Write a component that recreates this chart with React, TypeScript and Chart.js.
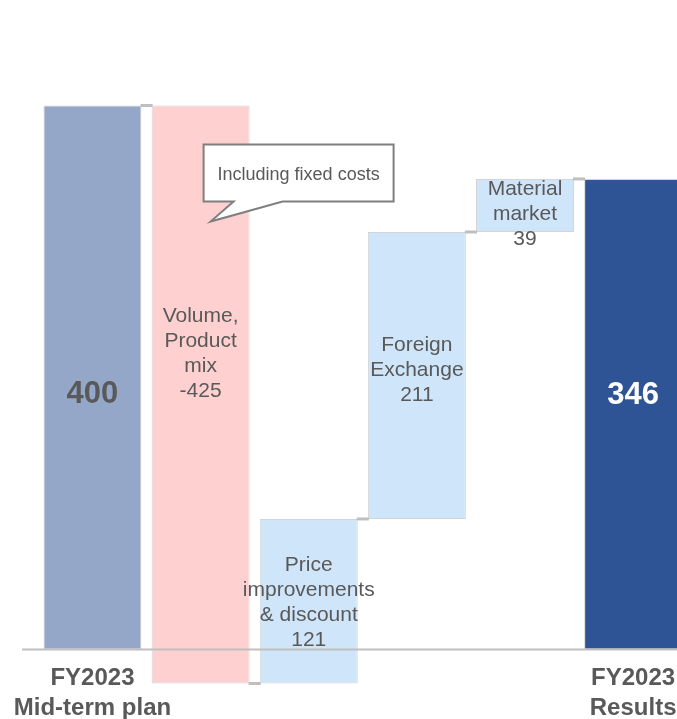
import React, { useEffect, useRef } from "react";
import { Chart, registerables } from "chart.js";

Chart.register(...registerables);

// ---- data ----
const categories = ["FY2023 Mid-term plan", "Volume, Product mix", "Price improvements & discount", "Foreign Exchange", "Material market", "FY2023 Results"];
const values = [400, -425, 121, 211, 39, 346];
const barKinds = ["total", "delta", "delta", "delta", "delta", "total"];
const barNameLines = [[], ["Volume,", "Product", "mix"], ["Price", "improvements", "& discount"], ["Foreign", "Exchange"], ["Material", "market"], []];
const axisLabelLines = [["FY2023", "Mid-term plan"], [], [], [], [], ["FY2023", "Results"]];
const calloutText = "Including fixed costs";
const calloutBarIndex = 1;

// ---- style ----
const FONT = "'Liberation Sans', Arial, sans-serif";
const TEXT = "#595959";
const barColors = ["#94A7C9", "#FFD0D0", "#CFE5FA", "#CFE5FA", "#CFE5FA", "#2F5496"];
const labelDy = [17, -41, 1, -5, 9, -19];
const labelColors = [TEXT, TEXT, TEXT, TEXT, TEXT, "#FFFFFF"];

function buildRanges() {
  let running = 0;
  return values.map((v, i) => {
    if (barKinds[i] === "total") {
      running = v;
      return [0, v];
    }
    const r = [running, running + v];
    running += v;
    return r;
  });
}

const overlayPlugin = {
  id: "overlay",
  afterDatasetsDraw(chart: any) {
    const ctx = chart.ctx;
    const meta = chart.getDatasetMeta(0);
    const y = chart.scales.y;
    const ranges = buildRanges();
    ctx.save();

    // connectors
    ctx.strokeStyle = "#BFBFBF";
    ctx.lineWidth = 3;
    for (let i = 0; i < ranges.length - 1; i++) {
      const a = meta.data[i];
      const b = meta.data[i + 1];
      const level = ranges[i][1];
      const py = y.getPixelForValue(level);
      ctx.beginPath();
      ctx.moveTo(a.x + a.width / 2 - 1, py);
      ctx.lineTo(b.x - b.width / 2 + 1, py);
      ctx.stroke();
    }

    // baseline
    const zy = y.getPixelForValue(0);
    ctx.strokeStyle = "#C0C0C0";
    ctx.lineWidth = 2;
    ctx.beginPath();
    ctx.moveTo(22, zy);
    ctx.lineTo(chart.width, zy);
    ctx.stroke();

    // bar labels
    ctx.textAlign = "center";
    ctx.textBaseline = "middle";
    values.forEach((v, i) => {
      const el = meta.data[i];
      const mid = (y.getPixelForValue(ranges[i][0]) + y.getPixelForValue(ranges[i][1])) / 2 + labelDy[i];
      ctx.fillStyle = labelColors[i];
      if (barKinds[i] === "total") {
        ctx.font = `bold 31px ${FONT}`;
        ctx.fillText(String(v), el.x, mid);
      } else {
        const lines = [...barNameLines[i], String(v)];
        const lh = 25;
        ctx.font = `21px ${FONT}`;
        lines.forEach((t, k) => {
          ctx.fillText(t, el.x, mid + (k - (lines.length - 1) / 2) * lh);
        });
      }
    });

    // axis labels
    ctx.font = `bold 24px ${FONT}`;
    ctx.fillStyle = TEXT;
    axisLabelLines.forEach((lines, i) => {
      const el = meta.data[i];
      lines.forEach((t, k) => {
        ctx.fillText(t, el.x, zy + 29 + k * 30);
      });
    });

    // callout
    const cb = meta.data[calloutBarIndex];
    const left = cb.x + 3;
    const right = left + 190;
    const top = y.getPixelForValue(ranges[0][1]) + 39;
    const bottom = top + 57;
    ctx.beginPath();
    ctx.moveTo(left, top);
    ctx.lineTo(right, top);
    ctx.lineTo(right, bottom);
    ctx.lineTo(left + 79, bottom);
    ctx.lineTo(left + 7, bottom + 20);
    ctx.lineTo(left + 30, bottom);
    ctx.lineTo(left, bottom);
    ctx.closePath();
    ctx.fillStyle = "#FFFFFF";
    ctx.fill();
    ctx.strokeStyle = "#7F7F7F";
    ctx.lineWidth = 2;
    ctx.stroke();
    ctx.fillStyle = TEXT;
    ctx.font = `18px ${FONT}`;
    ctx.fillText(calloutText, (left + right) / 2, top + 31);

    ctx.restore();
  },
};

export default function App() {
  const ref = useRef<HTMLCanvasElement>(null);
  useEffect(() => {
    if (!ref.current) return;
    const chart = new Chart(ref.current, {
      type: "bar",
      data: {
        labels: categories,
        datasets: [
          {
            data: buildRanges() as any,
            backgroundColor: barColors,
            borderColor: "#D4D4D4",
            borderWidth: 1,
            borderSkipped: false,
            barPercentage: 0.906,
            categoryPercentage: 1,
          },
        ],
      },
      options: {
        animation: false,
        responsive: false,
        devicePixelRatio: 1,
        layout: { padding: { left: 38.4, right: 12.8, top: 37.5, bottom: 1.5 } },
        scales: {
          x: { display: false, offset: true },
          y: { display: false, min: -50, max: 450 },
        },
        plugins: { legend: { display: false }, tooltip: { enabled: false } },
      },
      plugins: [overlayPlugin],
    });
    return () => chart.destroy();
  }, []);
  return (
    <div style={{ position: "fixed", left: 0, top: 0, width: 677, height: 719, overflow: "hidden", background: "#fff" }}>
      <canvas ref={ref} width={700} height={719} style={{ width: 700, height: 719, display: "block" }} />
    </div>
  );
}
